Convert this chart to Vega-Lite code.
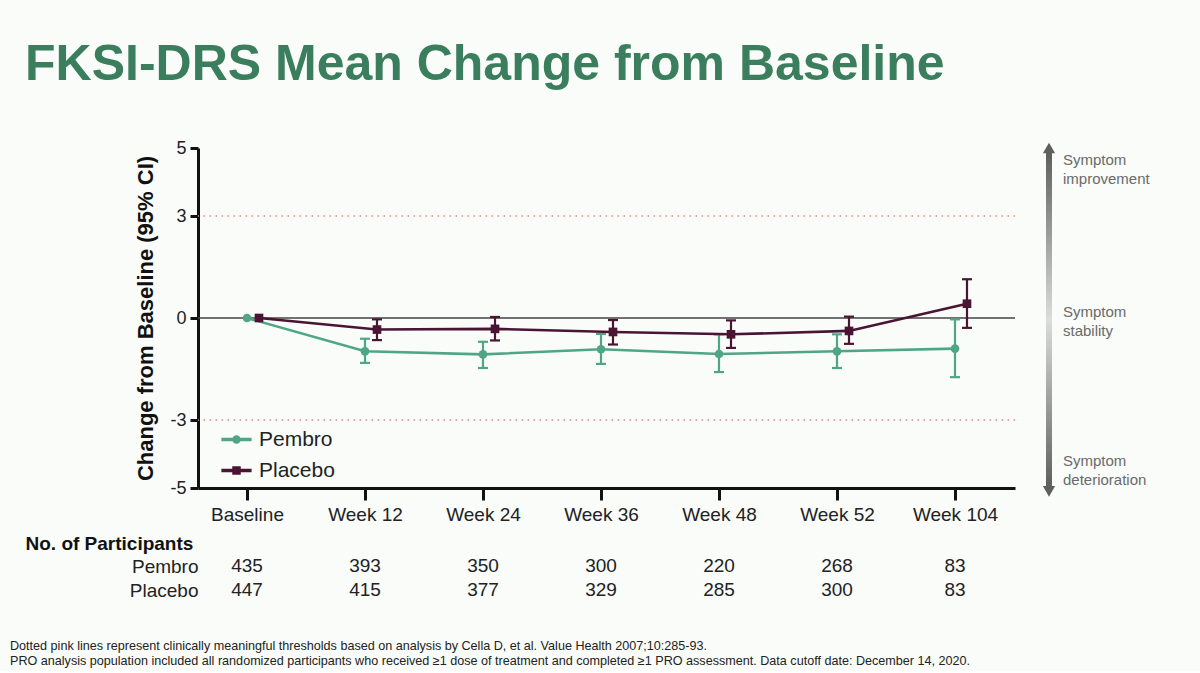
{
  "$schema": "https://vega.github.io/schema/vega-lite/v6.json",
  "background": "#f9fcf9",
  "padding": {"left": 10, "top": 40, "right": 50, "bottom": 3},
  "config": {"font": "Liberation Sans", "view": {"stroke": null}},
  "title": {
    "text": ["Dotted pink lines represent clinically meaningful thresholds based on analysis by Cella D, et al. Value Health 2007;10:285-93.", "PRO analysis population included all randomized participants who received ≥1 dose of treatment and completed ≥1 PRO assessment. Data cutoff date: December 14, 2020."],
    "orient": "bottom", "anchor": "start", "frame": "bounds", "dx": -15, "offset": 38,
    "font": "Liberation Sans", "fontSize": 12.6, "fontWeight": "normal", "color": "#222222", "lineHeight": 15
  },
  "columns": 2,
  "align": "each",
  "bounds": "flush",
  "spacing": {"row": 66, "column": 31},
  "concat": [
    {
      "width": 817,
      "height": 340,
      "title": {"text": "FKSI-DRS Mean Change from Baseline", "anchor": "start", "frame": "group", "dx": -173, "offset": 49, "font": "Liberation Sans", "fontSize": 50, "fontWeight": "bold", "color": "#3b7e5d"},
      "layer": [
        {
          "data": {"values": [{"threshold": 3}, {"threshold": -3}]},
          "mark": {"type": "rule", "color": "#e38489", "strokeWidth": 1.6, "strokeDash": [1.5, 4.5]},
          "encoding": {
            "y": {"field": "threshold", "type": "quantitative", "scale": {"domain": [-5, 5]}, "title": "Change from Baseline (95% CI)"}
          }
        },
        {
          "data": {"values": [{}]},
          "mark": {"type": "rule", "color": "#444444", "strokeWidth": 1.5},
          "encoding": {"y": {"datum": 0, "type": "quantitative", "title": "Change from Baseline (95% CI)"}}
        },
        {
          "data": {"values": [
            {"series": "Pembro", "time": "Baseline", "mean": 0, "lo": null, "hi": null},
            {"series": "Pembro", "time": "Week 12", "mean": -0.98, "lo": -1.32, "hi": -0.61},
            {"series": "Pembro", "time": "Week 24", "mean": -1.07, "lo": -1.47, "hi": -0.70},
            {"series": "Pembro", "time": "Week 36", "mean": -0.92, "lo": -1.35, "hi": -0.47},
            {"series": "Pembro", "time": "Week 48", "mean": -1.06, "lo": -1.59, "hi": -0.48},
            {"series": "Pembro", "time": "Week 52", "mean": -0.98, "lo": -1.47, "hi": -0.48},
            {"series": "Pembro", "time": "Week 104", "mean": -0.90, "lo": -1.74, "hi": -0.04},
            {"series": "Placebo", "time": "Baseline", "mean": 0, "lo": null, "hi": null},
            {"series": "Placebo", "time": "Week 12", "mean": -0.34, "lo": -0.65, "hi": -0.04},
            {"series": "Placebo", "time": "Week 24", "mean": -0.32, "lo": -0.66, "hi": 0.03},
            {"series": "Placebo", "time": "Week 36", "mean": -0.41, "lo": -0.78, "hi": -0.06},
            {"series": "Placebo", "time": "Week 48", "mean": -0.48, "lo": -0.88, "hi": -0.07},
            {"series": "Placebo", "time": "Week 52", "mean": -0.38, "lo": -0.76, "hi": 0.04},
            {"series": "Placebo", "time": "Week 104", "mean": 0.42, "lo": -0.29, "hi": 1.14}
          ]},
          "encoding": {
            "x": {
              "field": "time", "type": "nominal", "sort": null,
              "scale": {"type": "point", "domain": ["Baseline", "Week 12", "Week 24", "Week 36", "Week 48", "Week 52", "Week 104"], "padding": 0.4619, "align": 0.4495},
              "axis": {"title": null, "labelAngle": 0, "labelFontSize": 19, "labelColor": "#222222", "labelPadding": 5, "domainColor": "#111111", "domainWidth": 3, "tickColor": "#111111", "tickWidth": 3, "tickSize": 12, "grid": false}
            },
            "xOffset": {"field": "series", "type": "nominal", "scale": {"type": "point", "domain": ["Pembro", "Placebo"], "range": [0, 12], "padding": 0}},
            "color": {
              "field": "series", "type": "nominal",
              "scale": {"domain": ["Pembro", "Placebo"], "range": ["#4fa687", "#4a1533"]},
              "legend": {
                "title": null, "orient": "none", "legendX": 28, "legendY": 281, "padding": 0,
                "labelFontSize": 21, "labelColor": "#222222", "labelOffset": 12, "symbolSize": 49, "rowPadding": 9, "symbolOpacity": 1
              }
            }
          },
          "layer": [
            {
              "transform": [{"filter": "datum.lo != null"}],
              "mark": {"type": "rule", "strokeWidth": 2.2},
              "encoding": {
                "y": {"field": "lo", "type": "quantitative", "title": "Change from Baseline (95% CI)"},
                "y2": {"field": "hi"}
              }
            },
            {
              "transform": [{"filter": "datum.lo != null"}],
              "mark": {"type": "tick", "size": 10, "thickness": 2.2, "opacity": 1},
              "encoding": {"y": {"field": "lo", "type": "quantitative", "title": "Change from Baseline (95% CI)"}}
            },
            {
              "transform": [{"filter": "datum.lo != null"}],
              "mark": {"type": "tick", "size": 10, "thickness": 2.2, "opacity": 1},
              "encoding": {"y": {"field": "hi", "type": "quantitative", "title": "Change from Baseline (95% CI)"}}
            },
            {
              "mark": {"type": "line", "strokeWidth": 2.6},
              "encoding": {"y": {"field": "mean", "type": "quantitative", "title": "Change from Baseline (95% CI)"}}
            },
            {
              "mark": {"type": "point", "filled": true, "size": 0, "opacity": 1},
              "encoding": {
                "y": {"field": "mean", "type": "quantitative", "title": "Change from Baseline (95% CI)"},
                "shape": {"field": "series", "type": "nominal", "scale": {"domain": ["Pembro", "Placebo"], "range": ["M-4.1,-0.31H4.1V0.31H-4.1Z M1,0A1,1,0,1,1,-1,0A1,1,0,1,1,1,0Z", "M-4.1,-0.31H4.1V0.31H-4.1Z M-1,-1H1V1H-1Z"]}, "legend": null}
              }
            },
            {
              "transform": [{"filter": "datum.series === 'Pembro'"}],
              "mark": {"type": "point", "shape": "circle", "filled": true, "size": 75, "opacity": 1},
              "encoding": {"y": {"field": "mean", "type": "quantitative", "title": "Change from Baseline (95% CI)"}}
            },
            {
              "transform": [{"filter": "datum.series === 'Placebo'"}],
              "mark": {"type": "point", "shape": "square", "filled": true, "size": 75, "opacity": 1},
              "encoding": {
                "y": {
                  "field": "mean", "type": "quantitative", "title": "Change from Baseline (95% CI)",
                  "axis": {"values": [-5, -3, 0, 3, 5], "labelExpr": "'' + datum.value", "grid": false, "domainWidth": 3, "domainColor": "#111111", "tickWidth": 3, "tickColor": "#111111", "tickSize": 8, "labelFontSize": 18, "labelColor": "#222222", "labelPadding": 4, "titleFontSize": 22, "titleFontWeight": "bold", "titleColor": "#111111", "titlePadding": 12}
                }
              }
            }
          ]
        }
      ]
    },
    {
      "width": 6,
      "height": 340,
      "data": {"values": [{}]},
      "layer": [
        {
          "mark": {"type": "rect", "color": {"gradient": "linear", "x1": 0, "y1": 0, "x2": 0, "y2": 1, "stops": [{"offset": 0, "color": "#5f5f5f"}, {"offset": 0.5, "color": "#dcdcdc"}, {"offset": 1, "color": "#5f5f5f"}]}},
          "encoding": {
            "y": {"datum": 4.85, "type": "quantitative", "scale": {"domain": [-5, 5]}, "axis": null},
            "y2": {"datum": -4.95}
          }
        },
        {
          "mark": {"type": "point", "shape": "triangle-up", "filled": true, "size": 150, "color": "#5f5f5f", "opacity": 1},
          "encoding": {"y": {"datum": 5.0, "type": "quantitative"}}
        },
        {
          "mark": {"type": "point", "shape": "triangle-down", "filled": true, "size": 150, "color": "#5f5f5f", "opacity": 1},
          "encoding": {"y": {"datum": -5.1, "type": "quantitative"}}
        },
        {
          "data": {"values": [
            {"label": "Symptom\nimprovement", "level": 4.64},
            {"label": "Symptom\nstability", "level": 0.18},
            {"label": "Symptom\ndeterioration", "level": -4.2}
          ]},
          "mark": {"type": "text", "align": "left", "baseline": "middle", "dx": 14, "fontSize": 15, "color": "#6a6a6a", "lineBreak": "\n", "lineHeight": 19},
          "encoding": {
            "y": {"field": "level", "type": "quantitative"},
            "text": {"field": "label", "type": "nominal"}
          }
        }
      ]
    },
    {
      "width": 817,
      "height": 48,
      "data": {"values": [
        {"series": "Pembro", "time": "Baseline", "n": 435},
        {"series": "Pembro", "time": "Week 12", "n": 393},
        {"series": "Pembro", "time": "Week 24", "n": 350},
        {"series": "Pembro", "time": "Week 36", "n": 300},
        {"series": "Pembro", "time": "Week 48", "n": 220},
        {"series": "Pembro", "time": "Week 52", "n": 268},
        {"series": "Pembro", "time": "Week 104", "n": 83},
        {"series": "Placebo", "time": "Baseline", "n": 447},
        {"series": "Placebo", "time": "Week 12", "n": 415},
        {"series": "Placebo", "time": "Week 24", "n": 377},
        {"series": "Placebo", "time": "Week 36", "n": 329},
        {"series": "Placebo", "time": "Week 48", "n": 285},
        {"series": "Placebo", "time": "Week 52", "n": 300},
        {"series": "Placebo", "time": "Week 104", "n": 83}
      ]},
      "mark": {"type": "text", "fontSize": 19, "color": "#222222"},
      "encoding": {
        "x": {
          "field": "time", "type": "nominal", "sort": null,
          "scale": {"type": "point", "domain": ["Baseline", "Week 12", "Week 24", "Week 36", "Week 48", "Week 52", "Week 104"], "padding": 0.4619, "align": 0.4495},
          "axis": null
        },
        "y": {
          "field": "series", "type": "nominal", "scale": {"domain": ["Pembro", "Placebo"]},
          "axis": {"title": "No. of Participants", "titleAngle": 0, "titleAlign": "left", "titleBaseline": "middle", "titleX": -173, "titleY": -11, "titleFontSize": 19, "titleFontWeight": "bold", "titleColor": "#111111", "labelFontSize": 19, "labelColor": "#222222", "domain": false, "ticks": false, "labelPadding": 0}
        },
        "text": {"field": "n", "type": "quantitative"}
      }
    }
  ]
}
